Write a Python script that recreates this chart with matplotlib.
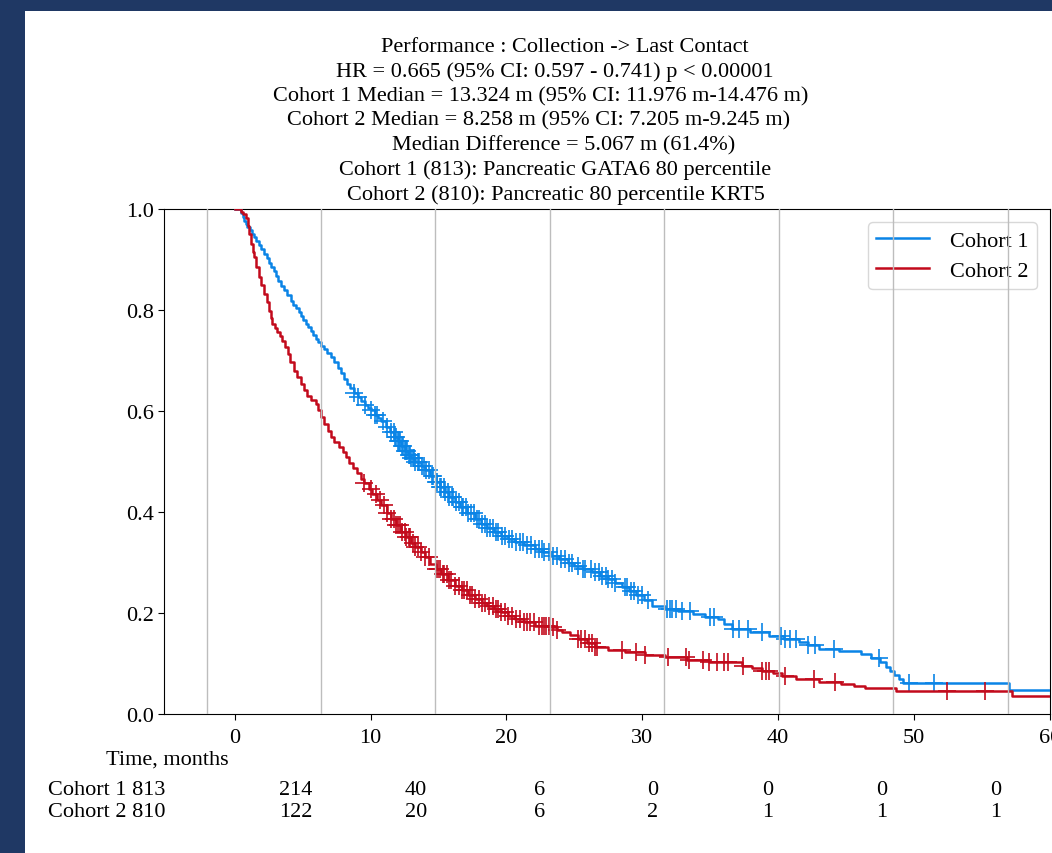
import numpy as np
import matplotlib
matplotlib.use("Agg")
import matplotlib.pyplot as plt
from matplotlib.patches import Rectangle

plt.rcParams['font.family'] = ['Liberation Serif', 'DejaVu Serif']
FS = 16

# Kaplan-Meier steps (months, survival)
c1_time = [0.0, 0.5, 0.6, 0.7, 0.8, 0.93, 1.1, 1.25, 1.42, 1.6, 1.8, 1.95, 2.16, 2.35, 2.55, 2.7,
           2.9, 3.05, 3.2, 3.4, 3.6, 3.85, 4.13, 4.3, 4.5, 4.7, 4.87, 5.05, 5.25, 5.4, 5.6, 5.8,
           6.0, 6.15, 6.35, 6.55, 6.8, 7.08, 7.3, 7.58, 7.8, 8.05, 8.3, 8.5, 8.8, 9.06, 9.3, 9.6,
           9.8, 10.0, 10.3, 10.55, 10.8, 11.1, 11.4, 11.76, 12.0, 12.25, 12.5, 12.75, 13.0, 13.3,
           13.7, 14.0, 14.4, 14.8, 15.1, 15.5, 15.8, 16.2, 16.6, 17.1, 17.66, 18.1, 18.6, 19.1,
           19.6, 20.1, 20.6, 21.3, 22.1, 22.7, 23.3, 23.9, 24.5, 25.0, 25.6, 26.3, 26.9, 27.5,
           28.0, 28.5, 29.0, 29.5, 30.1, 30.7, 31.7, 32.6, 33.7, 34.6, 35.6, 36.0, 36.6, 37.9,
           39.3, 40.4, 41.5, 42.2, 43.0, 44.5, 46.1, 46.8, 47.5, 47.9, 48.2, 48.5, 48.9, 49.2,
           57.0, 60.0]
c1_surv = [1.0, 0.993, 0.985, 0.977, 0.970, 0.964, 0.958, 0.951, 0.944, 0.936, 0.928, 0.920,
           0.911, 0.903, 0.894, 0.886, 0.878, 0.868, 0.858, 0.848, 0.840, 0.829, 0.818, 0.810,
           0.803, 0.796, 0.789, 0.781, 0.773, 0.766, 0.759, 0.751, 0.743, 0.736, 0.729, 0.722,
           0.714, 0.706, 0.697, 0.686, 0.676, 0.664, 0.653, 0.645, 0.636, 0.627, 0.620, 0.612,
           0.606, 0.601, 0.592, 0.586, 0.580, 0.569, 0.559, 0.548, 0.540, 0.531, 0.521, 0.512,
           0.506, 0.500, 0.492, 0.483, 0.471, 0.459, 0.450, 0.439, 0.430, 0.419, 0.410, 0.398,
           0.386, 0.377, 0.368, 0.360, 0.353, 0.346, 0.340, 0.334, 0.327, 0.320, 0.313, 0.306,
           0.300, 0.294, 0.288, 0.281, 0.274, 0.267, 0.259, 0.252, 0.244, 0.236, 0.226, 0.214,
           0.208, 0.203, 0.198, 0.193, 0.188, 0.178, 0.168, 0.162, 0.155, 0.149, 0.142, 0.136,
           0.129, 0.124, 0.119, 0.111, 0.103, 0.094, 0.086, 0.077, 0.069, 0.061, 0.048, 0.048]

c2_time = [0.0, 0.5, 0.65, 0.81, 0.95, 1.06, 1.2, 1.32, 1.42, 1.6, 1.8, 1.95, 2.16, 2.35, 2.53,
           2.65, 2.78, 2.95, 3.15, 3.35, 3.52, 3.7, 3.89, 4.1, 4.38, 4.6, 4.87, 5.1, 5.36, 5.65,
           5.98, 6.15, 6.35, 6.6, 6.84, 7.1, 7.33, 7.65, 7.95, 8.2, 8.44, 8.7, 9.0, 9.3, 9.55,
           9.85, 10.1, 10.45, 10.8, 11.2, 11.5, 11.85, 12.25, 12.6, 13.0, 13.3, 13.7, 14.0, 14.4,
           14.8, 15.2, 15.7, 16.2, 16.7, 17.2, 17.66, 18.2, 18.6, 19.1, 19.6, 20.1, 20.6, 21.3,
           22.1, 23.3, 23.7, 24.1, 24.7, 25.3, 25.9, 26.5, 27.5, 28.7, 30.2, 31.7, 33.3, 34.9,
           37.3, 38.1, 38.8, 39.6, 40.3, 41.3, 43.0, 44.6, 45.6, 46.4, 48.7, 57.2, 60.0]
c2_surv = [1.0, 0.995, 0.99, 0.983, 0.967, 0.95, 0.93, 0.915, 0.904, 0.885, 0.865, 0.85, 0.832,
           0.815, 0.798, 0.785, 0.772, 0.764, 0.756, 0.748, 0.739, 0.726, 0.713, 0.698, 0.680,
           0.667, 0.653, 0.642, 0.630, 0.622, 0.614, 0.601, 0.588, 0.575, 0.561, 0.549, 0.538,
           0.528, 0.518, 0.508, 0.498, 0.488, 0.477, 0.466, 0.457, 0.446, 0.435, 0.424, 0.413,
           0.398, 0.387, 0.374, 0.360, 0.350, 0.339, 0.330, 0.320, 0.311, 0.298, 0.287, 0.277,
           0.265, 0.254, 0.245, 0.236, 0.228, 0.220, 0.214, 0.208, 0.202, 0.195, 0.188, 0.182,
           0.175, 0.172, 0.167, 0.162, 0.156, 0.149, 0.140, 0.132, 0.127, 0.122, 0.117, 0.112,
           0.107, 0.102, 0.096, 0.091, 0.086, 0.081, 0.076, 0.069, 0.064, 0.059, 0.055, 0.051,
           0.046, 0.035, 0.035]

# censoring times
c1_cens = [8.8, 9.1, 9.6, 10.0, 10.3, 10.5, 10.9, 11.2, 11.5, 11.7, 11.8, 11.9, 12.0, 12.1,
           12.2, 12.3, 12.4, 12.5, 12.6, 12.7, 12.8, 12.9, 13.0, 13.1, 13.2, 13.3, 13.5, 13.6,
           13.8, 13.9, 14.1, 14.3, 14.5, 14.6, 14.8, 14.9, 15.1, 15.2, 15.4, 15.5, 15.7, 15.8,
           16.0, 16.1, 16.3, 16.5, 16.7, 16.8, 17.0, 17.2, 17.4, 17.6, 17.8, 18.0, 18.2, 18.4,
           18.6, 18.8, 19.0, 19.2, 19.4, 19.7, 19.9, 20.2, 20.4, 20.7, 21.0, 21.2, 21.5, 21.8,
           22.1, 22.4, 22.6, 22.8, 23.1, 23.4, 23.7, 24.0, 24.3, 24.6, 24.8, 25.3, 25.6, 25.8,
           26.2, 26.5, 26.8, 27.0, 27.3, 27.5, 27.8, 28.0, 28.7, 28.9, 29.2, 29.4, 29.7, 30.0,
           30.4, 31.8, 32.0, 32.2, 32.5, 32.9, 33.5, 35.0, 35.3, 36.7, 37.1, 37.8, 38.8, 40.2,
           40.5, 40.9, 41.3, 42.2, 42.7, 44.1, 47.4, 49.6, 51.5]
c2_cens = [9.55, 10.0, 10.4, 10.7, 11.0, 11.2, 11.5, 11.7, 11.9, 12.0, 12.2, 12.3, 12.5, 12.6,
           12.8, 12.9, 13.1, 13.3, 13.5, 13.7, 14.0, 14.3, 14.8, 15.0, 15.1, 15.3, 15.4, 15.6,
           15.8, 15.9, 16.2, 16.5, 16.7, 16.9, 17.1, 17.3, 17.5, 17.7, 18.0, 18.2, 18.4, 18.7,
           19.0, 19.2, 19.4, 19.6, 19.9, 20.1, 20.4, 20.7, 21.0, 21.3, 21.5, 21.7, 22.0, 22.4,
           22.6, 22.8, 22.9, 23.1, 23.4, 23.7, 25.3, 25.5, 25.8, 26.1, 26.3, 26.5, 26.7, 28.5,
           29.5, 30.2, 31.9, 33.2, 33.4, 34.5, 34.9, 35.5, 36.0, 36.3, 37.4, 38.8, 39.1, 39.3,
           40.5, 42.6, 44.2, 52.4, 55.2]

# numbers at risk
risk_labels = ["Cohort 1 813", "Cohort 2 810"]
c1_risk = [214, 40, 6, 0, 0, 0, 0]
c2_risk = [122, 20, 6, 2, 1, 1, 1]

title_lines = [
    "Performance : Collection -> Last Contact",
    "HR = 0.665 (95% CI: 0.597 - 0.741) p < 0.00001",
    "Cohort 1 Median = 13.324 m (95% CI: 11.976 m-14.476 m)",
    "Cohort 2 Median = 8.258 m (95% CI: 7.205 m-9.245 m)",
    "Median Difference = 5.067 m (61.4%)",
    "Cohort 1 (813): Pancreatic GATA6 80 percentile",
    "Cohort 2 (810): Pancreatic 80 percentile KRT5",
]

blue = '#0a84e6'
red = '#c20a1c'

W, H = 1052, 854
fig = plt.figure(figsize=(W / 100, H / 100), dpi=100)
fig.patch.set_facecolor('#1f3864')
fig.add_artist(Rectangle((25 / W, 0), 1, 1 - 12 / H, transform=fig.transFigure,
                         facecolor='white', edgecolor='none', zorder=-10))

ax = fig.add_axes([164 / W, 1 - 715 / H, (1050 - 164) / W, (715 - 210) / H])


def km(ax, t, s, cens, color, label):
    t = np.asarray(t)
    s = np.asarray(s)
    ax.plot(t, s, drawstyle='steps-post', color=color, lw=1.8, label=label, zorder=3)
    idx = np.searchsorted(t, cens, side='right') - 1
    ax.plot(cens, s[idx], ls='none', marker='+', ms=13, mew=1.4, color=color, alpha=0.85, zorder=3)


km(ax, c1_time, c1_surv, c1_cens, blue, "Cohort 1")
km(ax, c2_time, c2_surv, c2_cens, red, "Cohort 2")

ax.set_xlim(-5.2, 60)
ax.set_ylim(0, 1.0)
ax.set_xticks(np.arange(0, 61, 10))
ax.set_yticks(np.arange(0, 1.01, 0.2))
ax.tick_params(labelsize=FS, length=4)
ax.tick_params(axis='x', pad=6)
leg = ax.legend(loc='upper right', fontsize=FS, framealpha=1, edgecolor='#d8d8d8',
                borderpad=0.35, handlelength=2.4, handletextpad=0.95, labelspacing=0.45,
                borderaxespad=0.6)
leg.set_zorder(5)

# grid lines of the second tick set, drawn above everything like the original
for gx in np.linspace(-2.07, 56.9, 8):
    ax.axvline(gx, color='#bdbdbd', lw=1, zorder=6)

# title, one line at a time
title_cx = [565, 555, 541, 539, 564, 555, 556]
for i, (line, cx) in enumerate(zip(title_lines, title_cx)):
    fig.text(cx / W, 1 - (47 + 24.7 * i) / H, line, ha='center', va='center', fontsize=FS)

# at-risk table
fig.text(167 / W, 1 - 760 / H, "Time, months", ha='center', va='center', fontsize=FS)
col_x = [296, 416, 540, 653, 768, 882, 996]
for row, (lab, vals) in enumerate(zip(risk_labels, [c1_risk, c2_risk])):
    yy = 1 - (791 + 22 * row) / H
    fig.text(48 / W, yy, lab, ha='left', va='center', fontsize=FS)
    for cx, v in zip(col_x, vals):
        fig.text(cx / W, yy, str(v), ha='center', va='center', fontsize=FS)

fig.savefig("out.png", dpi=100, facecolor=fig.get_facecolor())
